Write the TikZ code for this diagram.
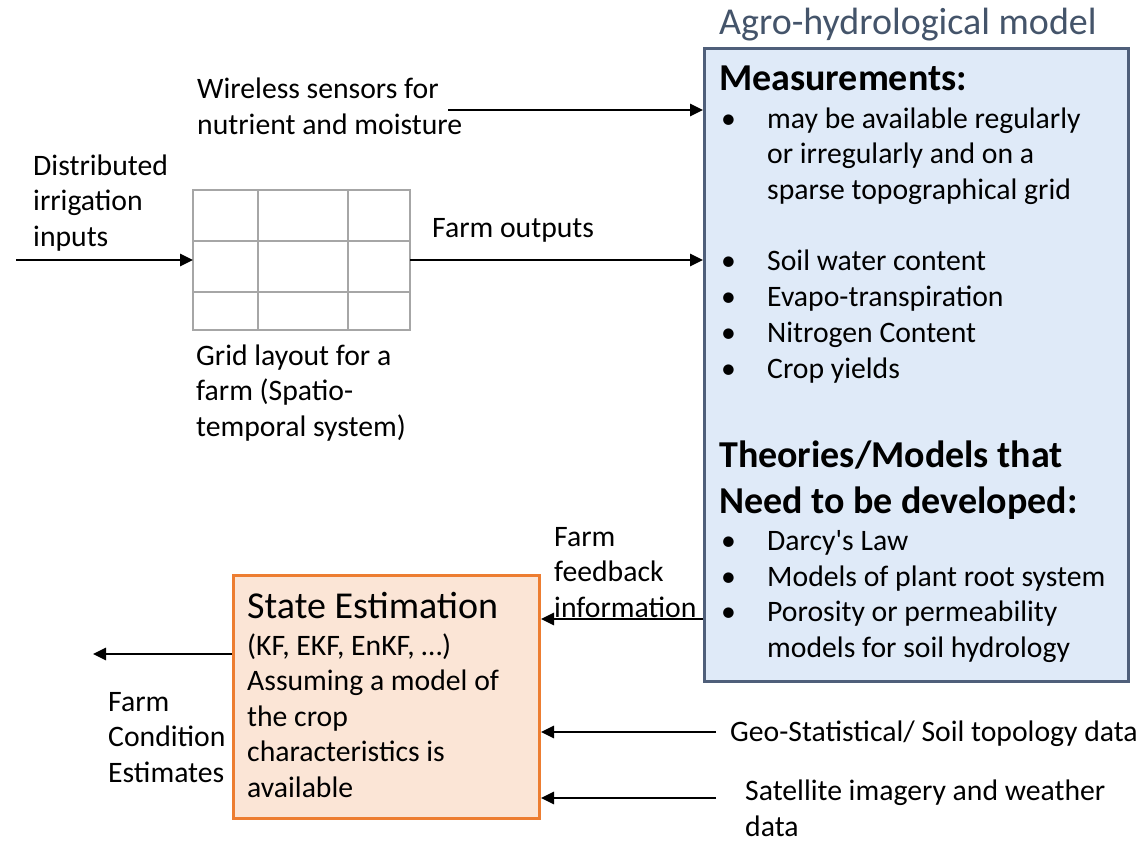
\documentclass[tikz,border=0pt]{standalone}
\usepackage{fontspec}
\setmainfont{Carlito}
\usetikzlibrary{arrows.meta}
\definecolor{bluefill}{HTML}{DFEAF8}
\definecolor{blueline}{HTML}{4F5F7A}
\definecolor{orfill}{HTML}{FBE5D6}
\definecolor{orline}{HTML}{ED7D31}
\definecolor{titlecol}{HTML}{44546A}
\definecolor{gridcol}{HTML}{A6A6A6}
\begin{document}
\begin{tikzpicture}[x=1pt,y=-1pt,
  txt/.style={inner sep=0pt, anchor=base west, align=left, font=\fontsize{29.7pt}{35.5pt}\selectfont},
  head/.style={txt, font=\fontsize{38pt}{46pt}\selectfont\bfseries},
  big/.style={txt, font=\fontsize{38pt}{44pt}\selectfont},
  bul/.style={txt},
  conn/.style={line width=2.8pt, -{Triangle[length=13pt,width=12pt]}},
  gridline/.style={draw=gridcol, line width=1.6pt}]
\useasboundingbox (0,0) rectangle (1146,843);

% boxes
\node[draw=blueline, fill=bluefill, line width=3pt, minimum width=424pt, minimum height=633pt, anchor=north west, inner sep=0pt] (blue) at (703,47) {};
\node[draw=orline, fill=orfill, line width=3pt, minimum width=306pt, minimum height=243pt, anchor=north west, inner sep=0pt] (orange) at (232,574) {};
\node[gridline, fill=white, minimum width=217pt, minimum height=140pt, anchor=north west, inner sep=0pt, outer sep=0pt] (grid) at (193,190) {};
\draw[gridline] (258,190) -- (258,330) (348,190) -- (348,330) (193,241) -- (410,241) (193,292) -- (410,292);

% title
\node[big, text=titlecol] (title) at (719,35) {Agro-hydrological model};

% blue box content (base anchor = baseline of the last line)
\node[head] (meas) at (719,91) {Measurements:};
\node[bul] (b1) at (721,128) {•};
\node[txt] (m1) at (767,199) {may be available regularly\\or irregularly and on a\\sparse topographical grid};
\node[bul] (b2) at (721,270) {•};
\node[bul] (b3) at (721,306) {•};
\node[bul] (b4) at (721,342) {•};
\node[bul] (b5) at (721,378) {•};
\node[txt] (m2) at (767,270) {Soil water content};
\node[txt] (m3) at (767,306) {Evapo-transpiration};
\node[txt] (m4) at (767,342) {Nitrogen Content};
\node[txt] (m5) at (767,378) {Crop yields};
\node[head] (theo) at (719,513) {Theories/Models that\\Need to be developed:};
\node[bul] (b6) at (721,550) {•};
\node[bul] (b7) at (721,586) {•};
\node[bul] (b8) at (721,621) {•};
\node[txt] (t1) at (767,550) {Darcy\textquotesingle s Law};
\node[txt] (t2) at (767,586) {Models of plant root system};
\node[txt] (t3) at (767,657) {Porosity or permeability\\models for soil hydrology};

% orange box content
\node[big] (se) at (247,618) {State Estimation};
\node[txt] (se2) at (247,797) {(KF, EKF, EnKF, …)\\Assuming a model of\\the crop\\characteristics is\\available};

% labels
\node[txt] (wire) at (197,134) {Wireless sensors for\\nutrient and moisture};
\node[txt] (dist) at (33,246) {Distributed\\irrigation\\inputs};
\node[txt] (fout) at (432,237) {Farm outputs};
\node[txt] (glay) at (196,436) {Grid layout for a\\farm (Spatio-\\temporal system)};
\node[txt] (ffb) at (554,617) {Farm\\feedback\\information};
\node[txt] (fce) at (108,782) {Farm\\Condition\\Estimates};
\node[txt] (geo) at (730,741) {Geo-Statistical/ Soil topology data};
\node[txt] (sat) at (745,836) {Satellite imagery and weather\\data};

% connector ends
\coordinate (inStart) at (16,0);
\coordinate (wireStart) at (448,110);
\coordinate (outEnd) at (93,654);
\coordinate (geoStart) at (716,732);
\coordinate (satStart) at (716,798);
\coordinate (fbY) at (0,619);

% connectors
\draw[conn] (inStart |- grid.west) -- (grid.west);
\draw[conn] (grid.east) -- (grid.east -| blue.west);
\draw[conn] (wireStart) -- (wireStart -| blue.west);
\draw[conn] (blue.west |- fbY) -- (orange.east |- fbY);
\draw[conn] (orange.west |- outEnd) -- (outEnd);
\draw[conn] (geoStart) -- (orange.east |- geoStart);
\draw[conn] (satStart) -- (orange.east |- satStart);
\end{tikzpicture}
\end{document}
